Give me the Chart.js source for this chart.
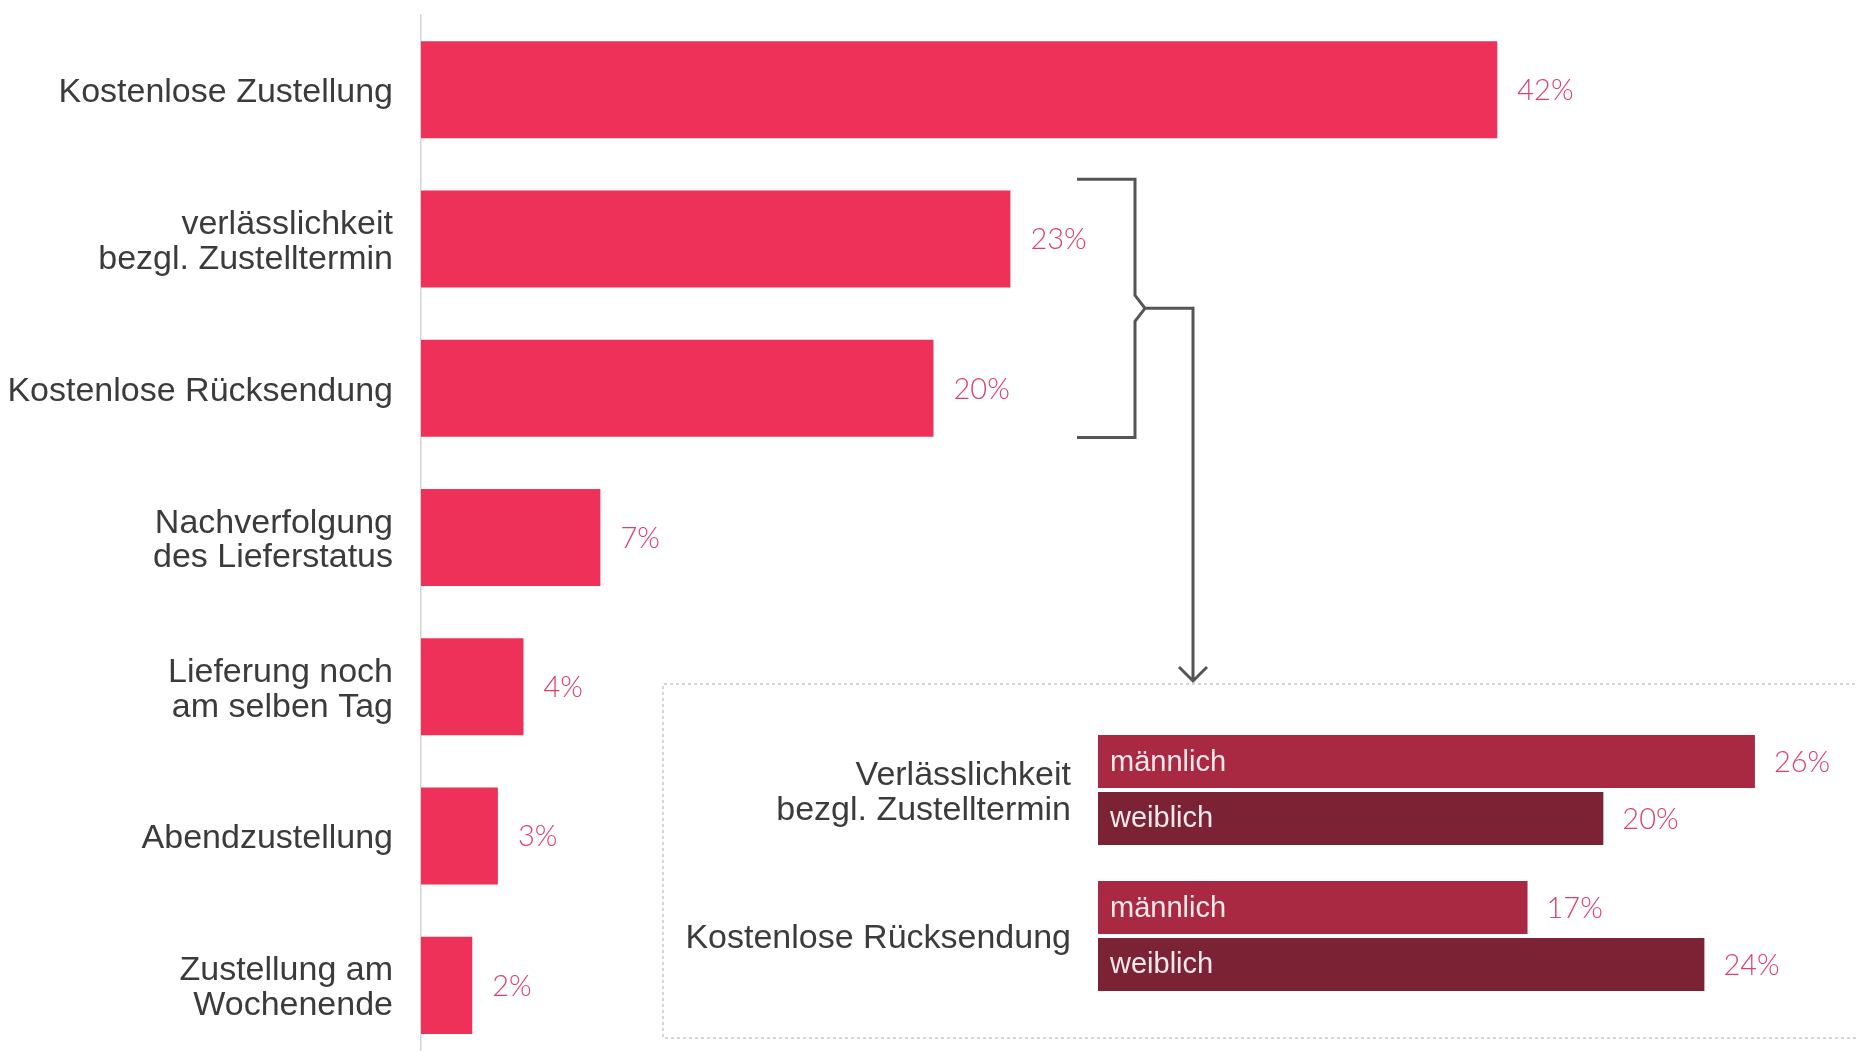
<!DOCTYPE html>
<html lang="de">
<head>
<meta charset="utf-8">
<title>Zustellung</title>
<script src="https://cdn.jsdelivr.net/npm/chart.js@4.4.1/dist/chart.umd.min.js"></script>
<style>
html, body { margin: 0; padding: 0; background: #fff; overflow: hidden; }
#wrap { position: relative; width: 1856px; height: 1051px; overflow: hidden; }
#main { position: absolute; left: 0; top: 0; }
#sub { position: absolute; left: 662px; top: 683px; }
</style>
</head>
<body>
<div id="wrap">
  <canvas id="main" width="1856" height="1062"></canvas>
  <canvas id="sub" width="1194" height="368"></canvas>
</div>
<script>
//項目と割合
var main_labels = [
    "Kostenlose Zustellung",
    ["verlässlichkeit", "bezgl. Zustelltermin"],
    "Kostenlose Rücksendung",
    ["Nachverfolgung", "des Lieferstatus"],
    ["Lieferung noch", "am selben Tag"],
    "Abendzustellung",
    ["Zustellung am", "Wochenende"]
];
var main_values = [42, 23, 20, 7, 4, 3, 2];

//男女別
var sub_labels = [["Verlässlichkeit", "bezgl. Zustelltermin"], "Kostenlose Rücksendung"];
var sub_series = ["männlich", "weiblich"];
var sub_male = [26, 17];
var sub_female = [20, 24];

var labelFont = { family: "'Liberation Sans', Arial, sans-serif", size: 34, lineHeight: 1.02 };

//ラベル分の余白を消して幅を固定
var fixAxis = function(width) {
    return function(scale) {
        scale.width = width;
        scale.paddingTop = 0;
        scale.paddingBottom = 0;
    };
};

//バーの右に数値を表示
var valueLabels = {
    id: 'valueLabels',
    afterDatasetsDraw: function(chart, args, opts) {
        var ctx = chart.ctx;
        ctx.save();
        ctx.font = "300 29px Lato, 'Open Sans', sans-serif";
        ctx.fillStyle = '#dc4169';
        ctx.textAlign = 'left';
        ctx.textBaseline = 'middle';
        chart.data.datasets.forEach(function(ds, i) {
            chart.getDatasetMeta(i).data.forEach(function(bar, j) {
                ctx.fillText(ds.data[j] + '%', bar.x + opts.gap, bar.y + 1);
            });
        });
        ctx.restore();
    }
};

//バーの中に系列名
var innerLabels = {
    id: 'innerLabels',
    afterDatasetsDraw: function(chart) {
        var ctx = chart.ctx;
        ctx.save();
        ctx.font = "29px 'Liberation Sans', Arial, sans-serif";
        ctx.fillStyle = '#f6e9ec';
        ctx.textAlign = 'left';
        ctx.textBaseline = 'middle';
        chart.data.datasets.forEach(function(ds, i) {
            chart.getDatasetMeta(i).data.forEach(function(bar) {
                ctx.fillText(ds.label, bar.base + 12, bar.y + 1);
            });
        });
        ctx.restore();
    }
};

//2項目をまとめる括弧と矢印
var bracket = {
    id: 'bracket',
    afterDraw: function(chart) {
        var ctx = chart.ctx;
        var y = chart.scales.y;
        var pitch = y.getPixelForValue(2) - y.getPixelForValue(1);
        var top = y.getPixelForValue(1) - pitch * 0.4;
        var bottom = y.getPixelForValue(2) + pitch * 0.33;
        var mid = (top + bottom) / 2;
        var left = 1077, vx = 1135, ax = 1193, end = 683;

        ctx.save();
        ctx.strokeStyle = '#555555';
        ctx.lineWidth = 3;
        ctx.lineJoin = 'miter';
        ctx.beginPath();
        ctx.moveTo(left, top);
        ctx.lineTo(vx, top);
        ctx.lineTo(vx, mid - 13);
        ctx.lineTo(vx + 10, mid);
        ctx.lineTo(vx, mid + 13);
        ctx.lineTo(vx, bottom);
        ctx.lineTo(left, bottom);
        ctx.moveTo(vx + 10, mid);
        ctx.lineTo(ax, mid);
        ctx.lineTo(ax, end - 2);
        ctx.moveTo(ax - 14, end - 16);
        ctx.lineTo(ax, end - 2);
        ctx.lineTo(ax + 14, end - 16);
        ctx.stroke();
        ctx.restore();
    }
};

//点線の枠
var frame = {
    id: 'frame',
    beforeDraw: function(chart) {
        var ctx = chart.ctx;
        ctx.save();
        ctx.strokeStyle = '#c8c8c8';
        ctx.lineWidth = 1.5;
        ctx.setLineDash([3, 3]);
        ctx.beginPath();
        ctx.moveTo(chart.width + 5, 1);
        ctx.lineTo(1, 1);
        ctx.lineTo(1, 355);
        ctx.lineTo(chart.width + 5, 355);
        ctx.stroke();
        ctx.restore();
    }
};

var main_chart = new Chart(document.getElementById('main').getContext('2d'), {
    type: 'bar',
    data: {
        labels: main_labels,
        datasets: [{
            data: main_values,
            backgroundColor: '#ee3159',
            borderWidth: 0,
            barPercentage: 0.65,
            categoryPercentage: 1
        }]
    },
    options: {
        indexAxis: 'y',
        responsive: false,
        animation: false,
        devicePixelRatio: 1,
        layout: { padding: { top: 15, right: 0, bottom: 2, left: 0 } },
        scales: {
            x: { min: 0, max: 56, display: false },
            y: {
                grid: { display: false, drawTicks: false },
                border: { display: true, dash: [3, 4], color: '#d4d4d4', width: 1.5 },
                ticks: { font: labelFont, color: '#3b3b3b', padding: 28, labelOffset: 3 },
                afterFit: fixAxis(421)
            }
        },
        plugins: {
            legend: { display: false },
            tooltip: { enabled: false },
            valueLabels: { gap: 20 }
        }
    },
    plugins: [valueLabels, bracket]
});

var sub_chart = new Chart(document.getElementById('sub').getContext('2d'), {
    type: 'bar',
    data: {
        labels: sub_labels,
        datasets: [{
            label: sub_series[0],
            data: sub_male,
            backgroundColor: '#a92842',
            borderWidth: 0,
            barPercentage: 0.93,
            categoryPercentage: 0.78
        }, {
            label: sub_series[1],
            data: sub_female,
            backgroundColor: '#7b2334',
            borderWidth: 0,
            barPercentage: 0.93,
            categoryPercentage: 0.78
        }]
    },
    options: {
        indexAxis: 'y',
        responsive: false,
        animation: false,
        devicePixelRatio: 1,
        layout: { padding: { top: 34, right: 0, bottom: 42, left: 0 } },
        scales: {
            x: { min: 0, max: 30, display: false },
            y: {
                grid: { display: false, drawTicks: false },
                border: { display: false },
                ticks: { font: labelFont, color: '#3b3b3b', padding: 27, labelOffset: 3 },
                afterFit: fixAxis(436)
            }
        },
        plugins: {
            legend: { display: false },
            tooltip: { enabled: false },
            valueLabels: { gap: 19 }
        }
    },
    plugins: [frame, valueLabels, innerLabels]
});
</script>
</body>
</html>
